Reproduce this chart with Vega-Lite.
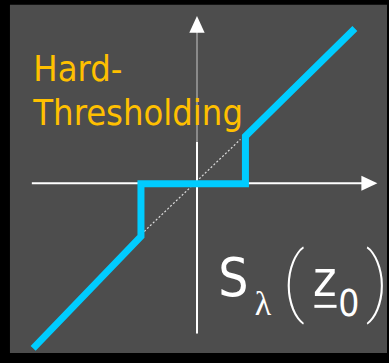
{
  "$schema": "https://vega.github.io/schema/vega-lite/v6.json",
  "width": 389,
  "height": 363,
  "autosize": {"type": "fit", "contains": "padding"},
  "padding": 0,
  "background": "#000000",
  "config": {"view": {"stroke": null}},
  "datasets": {
    "bg": [{"x": -18.8, "x2": 19.1, "y": 18.35, "y2": -17.45}],
    "diag": [{"i": 0, "x": -5.3, "y": -4.95}, {"i": 1, "x": 4.37, "y": 4.52}],
    "curve": [
      {"i": 0, "x": -16.47, "y": -16.98},
      {"i": 1, "x": -5.63, "y": -5.45},
      {"i": 2, "x": -5.63, "y": -0.05},
      {"i": 3, "x": 4.87, "y": -0.05},
      {"i": 4, "x": 4.87, "y": 4.85},
      {"i": 5, "x": 15.87, "y": 15.92}
    ],
    "axes": [
      {"x": -16.6, "x2": 16.6, "y": 0.0, "y2": 0.0, "c": "white"},
      {"x": 0.0, "x2": 0.0, "y": -15.45, "y2": 4.25, "c": "white"},
      {"x": 0.0, "x2": 0.0, "y": 4.25, "y2": 15.65, "c": "gray"}
    ],
    "heads": [
      {"x": 17.33, "y": 0.0, "d": "right"},
      {"x": 0.0, "y": 16.35, "d": "up"}
    ],
    "labels": [
      {"x": -16.45, "y": 10.55, "t": "Hard-", "k": "title"},
      {"x": -16.45, "y": 5.95, "t": "Thresholding", "k": "title"},
      {"x": 2.15, "y": -11.55, "t": "S", "k": "big"},
      {"x": 11.65, "y": -11.6, "t": "z", "k": "z"},
      {"x": 5.8, "y": -13.55, "t": "λ", "k": "lambda"},
      {"x": 14.2, "y": -13.65, "t": "0", "k": "sub"},
      {"x": 9.7, "y": -10.32, "t": "(", "k": "paren"},
      {"x": 18.12, "y": -10.32, "t": ")", "k": "paren"}
    ],
    "bar": [{"x": 11.8, "x2": 14.03, "y": -12.65, "y2": -12.65}]
  },
  "encoding": {
    "x": {"field": "x", "type": "quantitative", "scale": {"domain": [-19.8, 19.1], "nice": false, "zero": false}, "axis": null},
    "y": {"field": "y", "type": "quantitative", "scale": {"domain": [-17.45, 18.85], "nice": false, "zero": false}, "axis": null}
  },
  "layer": [
    {
      "data": {"name": "bg"},
      "mark": {"type": "rect", "color": "#4d4d4d"},
      "encoding": {"x2": {"field": "x2"}, "y2": {"field": "y2"}}
    },
    {
      "data": {"name": "axes"},
      "transform": [{"filter": "datum.c == 'white'"}],
      "mark": {"type": "rule", "color": "#ffffff", "strokeWidth": 2},
      "encoding": {"x2": {"field": "x2"}, "y2": {"field": "y2"}}
    },
    {
      "data": {"name": "axes"},
      "transform": [{"filter": "datum.c == 'gray'"}],
      "mark": {"type": "rule", "color": "#8a8a8a", "strokeWidth": 2},
      "encoding": {"x2": {"field": "x2"}, "y2": {"field": "y2"}}
    },
    {
      "data": {"name": "heads"},
      "transform": [{"filter": "datum.d == 'right'"}],
      "mark": {"type": "point", "shape": "M-1,-0.94L1,0L-1,0.94Z", "filled": true, "color": "#ffffff", "opacity": 1, "size": 256, "strokeWidth": 0}
    },
    {
      "data": {"name": "heads"},
      "transform": [{"filter": "datum.d == 'up'"}],
      "mark": {"type": "point", "shape": "M0,-1L0.92,1L-0.92,1Z", "filled": true, "color": "#ffffff", "opacity": 1, "size": 278, "strokeWidth": 0}
    },
    {
      "data": {"name": "diag"},
      "mark": {"type": "line", "color": "#dddddd", "strokeWidth": 1.2, "strokeDash": [2, 2]},
      "encoding": {"order": {"field": "i"}}
    },
    {
      "data": {"name": "curve"},
      "mark": {"type": "line", "color": "#00ccff", "strokeWidth": 7, "strokeCap": "butt", "strokeJoin": "miter"},
      "encoding": {"order": {"field": "i"}}
    },
    {
      "data": {"name": "labels"},
      "transform": [{"filter": "datum.k == 'title'"}],
      "mark": {"type": "text", "align": "left", "baseline": "alphabetic", "font": "DejaVu Sans Condensed, DejaVu Sans", "fontSize": 36, "color": "#ffc000"},
      "encoding": {"text": {"field": "t"}}
    },
    {
      "data": {"name": "labels"},
      "transform": [{"filter": "datum.k == 'big'"}],
      "mark": {"type": "text", "align": "left", "baseline": "alphabetic", "font": "DejaVu Sans Condensed, DejaVu Sans", "fontSize": 53, "color": "#ffffff"},
      "encoding": {"text": {"field": "t"}}
    },
    {
      "data": {"name": "labels"},
      "transform": [{"filter": "datum.k == 'z'"}],
      "mark": {"type": "text", "align": "left", "baseline": "alphabetic", "font": "DejaVu Sans Condensed, DejaVu Sans", "fontSize": 50, "color": "#ffffff"},
      "encoding": {"text": {"field": "t"}}
    },
    {
      "data": {"name": "labels"},
      "transform": [{"filter": "datum.k == 'lambda'"}],
      "mark": {"type": "text", "align": "left", "baseline": "alphabetic", "font": "Liberation Serif", "fontSize": 34, "color": "#ffffff"},
      "encoding": {"text": {"field": "t"}}
    },
    {
      "data": {"name": "labels"},
      "transform": [{"filter": "datum.k == 'sub'"}],
      "mark": {"type": "text", "align": "left", "baseline": "alphabetic", "font": "DejaVu Sans Condensed, DejaVu Sans", "fontSize": 37, "color": "#ffffff"},
      "encoding": {"text": {"field": "t"}}
    },
    {
      "data": {"name": "labels"},
      "transform": [{"filter": "datum.k == 'paren'"}],
      "mark": {"type": "text", "align": "center", "baseline": "middle", "font": "Roboto", "fontWeight": 100, "fontSize": 76, "color": "#ffffff"},
      "encoding": {"text": {"field": "t"}}
    },
    {
      "data": {"name": "bar"},
      "mark": {"type": "rule", "color": "#ffffff", "strokeWidth": 3},
      "encoding": {"x2": {"field": "x2"}, "y2": {"field": "y2"}}
    }
  ]
}
